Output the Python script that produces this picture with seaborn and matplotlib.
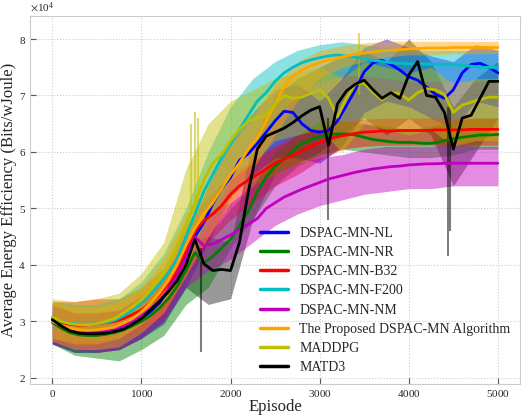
import numpy as np
import pandas as pd
import seaborn as sns
import matplotlib.pyplot as plt

# smoothed curves, read every 100 episodes (values in units of 1e4 Bits/wJoule)
episodes = list(range(0, 5001, 100))
# raw-trace envelopes, read every 250 episodes
band_episodes = list(range(0, 5001, 250))

algorithms = [
    "DSPAC-MN-NL",
    "DSPAC-MN-NR",
    "DSPAC-MN-B32",
    "DSPAC-MN-F200",
    "DSPAC-MN-NM",
    "The Proposed DSPAC-MN Algorithm",
    "MADDPG",
    "MATD3",
]
colors = ["#0000ff", "#008000", "#ff0000", "#00bfbf", "#bf00bf", "#ffa500", "#bfbf00", "#000000"]

nl_mean = [3.0, 2.93, 2.87, 2.83, 2.82, 2.82, 2.83, 2.85, 2.9, 2.97, 3.05,
           3.17, 3.32, 3.55, 3.85, 4.2, 4.5, 4.75, 5.08, 5.35, 5.55,
           5.85, 5.97, 6.15, 6.35, 6.55, 6.72, 6.7, 6.5, 6.38, 6.35,
           6.38, 6.55, 6.82, 7.1, 7.42, 7.58, 7.62, 7.55, 7.45, 7.33,
           7.27, 7.15, 7.02, 6.95, 7.1, 7.4, 7.55, 7.57, 7.5, 7.4]
nr_mean = [2.98, 2.88, 2.8, 2.76, 2.75, 2.75, 2.77, 2.8, 2.85, 2.92, 3.0,
           3.1, 3.23, 3.4, 3.62, 3.9, 4.22, 4.03, 4.15, 4.3, 4.45,
           4.7, 4.95, 5.3, 5.55, 5.75, 5.88, 6.02, 6.15, 6.22, 6.27,
           6.3, 6.32, 6.32, 6.3, 6.26, 6.22, 6.2, 6.18, 6.17, 6.17,
           6.16, 6.15, 6.16, 6.2, 6.23, 6.26, 6.28, 6.3, 6.3, 6.31]
b32_mean = [3.05, 2.98, 2.95, 2.93, 2.94, 2.96, 2.98, 3.0, 3.05, 3.12, 3.2,
            3.32, 3.47, 3.65, 3.9, 4.25, 4.6, 4.78, 4.9, 5.05, 5.25,
            5.4, 5.5, 5.6, 5.7, 5.8, 5.87, 5.95, 6.02, 6.1, 6.17,
            6.23, 6.27, 6.3, 6.33, 6.35, 6.36, 6.37, 6.37, 6.38, 6.38,
            6.38, 6.38, 6.39, 6.39, 6.39, 6.39, 6.4, 6.4, 6.4, 6.4]
f200_mean = [3.05, 3.0, 2.97, 2.95, 2.95, 2.96, 2.98, 3.02, 3.1, 3.2, 3.32,
             3.47, 3.65, 3.85, 4.1, 4.5, 4.9, 5.3, 5.6, 5.9, 6.15,
             6.4, 6.65, 6.9, 7.05, 7.25, 7.4, 7.5, 7.58, 7.63, 7.67,
             7.7, 7.72, 7.7, 7.68, 7.65, 7.62, 7.6, 7.58, 7.57, 7.56,
             7.56, 7.56, 7.55, 7.55, 7.55, 7.53, 7.52, 7.5, 7.5, 7.49]
nm_mean = [3.0, 2.92, 2.86, 2.83, 2.82, 2.83, 2.84, 2.87, 2.92, 3.0, 3.1,
           3.22, 3.37, 3.55, 3.8, 4.12, 4.5, 4.34, 4.37, 4.45, 4.53,
           4.63, 4.72, 4.82, 5.0, 5.1, 5.2, 5.27, 5.34, 5.4, 5.46,
           5.52, 5.56, 5.6, 5.64, 5.67, 5.7, 5.72, 5.74, 5.75, 5.77,
           5.78, 5.79, 5.79, 5.8, 5.8, 5.8, 5.8, 5.8, 5.8, 5.8]
proposed_mean = [3.0, 2.93, 2.88, 2.85, 2.84, 2.85, 2.87, 2.9, 2.97, 3.05, 3.17,
                 3.32, 3.5, 3.72, 4.0, 4.35, 4.65, 4.9, 5.1, 5.35, 5.6,
                 5.8, 6.05, 6.25, 6.55, 6.85, 7.15, 7.35, 7.45, 7.52, 7.58,
                 7.63, 7.66, 7.7, 7.73, 7.75, 7.77, 7.79, 7.8, 7.81, 7.82,
                 7.83, 7.84, 7.84, 7.84, 7.85, 7.85, 7.85, 7.85, 7.85, 7.85]
maddpg_mean = [3.08, 3.0, 2.96, 2.94, 2.94, 2.96, 3.0, 3.05, 3.15, 3.26, 3.38,
               3.55, 3.75, 4.0, 4.35, 4.7, 5.1, 5.5, 5.8, 5.95, 6.2,
               6.4, 6.55, 6.6, 6.65, 6.85, 7.0, 6.95, 6.97, 7.04, 7.1,
               6.95, 6.62, 6.95, 7.2, 7.22, 7.05, 6.92, 7.05, 7.03, 6.92,
               7.05, 7.12, 7.1, 7.02, 6.7, 6.83, 6.88, 6.93, 6.97, 6.97]
matd3_mean = [3.03, 2.92, 2.83, 2.79, 2.78, 2.78, 2.79, 2.82, 2.86, 2.95, 3.05,
              3.2, 3.35, 3.52, 3.72, 4.0, 4.45, 4.02, 3.9, 3.92, 3.9,
              4.4, 5.3, 6.05, 6.28, 6.35, 6.42, 6.52, 6.64, 6.74, 6.8,
              6.12, 6.85, 7.08, 7.2, 7.27, 7.1, 6.95, 7.05, 6.95, 7.36,
              7.6, 7.0, 6.97, 6.7, 6.05, 6.6, 6.65, 6.95, 7.25, 7.25]

nl_lo = [2.6, 2.45, 2.45, 2.5, 2.7, 2.95, 3.6, 4.4, 5.2, 5.6, 5.9,
         5.9, 5.8, 6.1, 6.7, 6.9, 6.8, 6.6, 6.4, 6.9, 6.8]
nl_hi = [3.25, 3.15, 3.15, 3.2, 3.4, 3.75, 4.5, 5.4, 6.2, 6.7, 7.1,
         7.2, 6.9, 7.3, 7.85, 8.0, 7.85, 7.7, 7.6, 7.9, 7.8]
nr_lo = [2.6, 2.4, 2.35, 2.3, 2.5, 2.75, 3.3, 3.6, 4.3, 4.8, 5.4,
         5.75, 5.95, 6.05, 6.0, 5.95, 5.9, 5.9, 5.95, 6.05, 6.05]
nr_hi = [3.2, 3.1, 3.1, 3.2, 3.35, 3.7, 4.3, 4.5, 5.0, 5.4, 6.0,
         6.3, 6.55, 6.55, 6.5, 6.45, 6.4, 6.45, 6.55, 6.6, 6.6]
b32_lo = [2.7, 2.6, 2.6, 2.7, 2.85, 3.1, 3.8, 4.4, 4.8, 5.1, 5.4,
          5.6, 5.85, 6.05, 6.1, 6.12, 6.12, 6.12, 6.12, 6.12, 6.12]
b32_hi = [3.35, 3.35, 3.4, 3.4, 3.6, 3.95, 4.7, 5.2, 5.6, 5.85, 6.1,
          6.3, 6.45, 6.55, 6.58, 6.6, 6.6, 6.6, 6.6, 6.6, 6.6]
f200_lo = [2.7, 2.65, 2.65, 2.7, 2.95, 3.3, 3.9, 4.7, 5.5, 6.0, 6.6,
           7.0, 7.25, 7.35, 7.35, 7.3, 7.25, 7.25, 7.25, 7.25, 7.25]
f200_hi = [3.35, 3.3, 3.3, 3.4, 3.7, 4.2, 5.0, 6.0, 6.8, 7.3, 7.6,
           7.8, 7.9, 7.95, 7.9, 7.85, 7.8, 7.8, 7.8, 7.8, 7.8]
nm_lo = [2.6, 2.5, 2.45, 2.5, 2.7, 3.0, 3.6, 3.9, 4.1, 4.4, 4.7,
         4.9, 5.05, 5.15, 5.25, 5.3, 5.35, 5.35, 5.4, 5.4, 5.4]
nm_hi = [3.3, 3.15, 3.15, 3.2, 3.45, 3.8, 4.5, 4.9, 5.1, 5.4, 5.6,
         5.8, 5.9, 5.95, 6.05, 6.1, 6.1, 6.1, 6.15, 6.1, 6.1]
proposed_lo = [2.65, 2.5, 2.5, 2.55, 2.8, 3.15, 3.8, 4.5, 5.1, 5.7, 6.3,
               6.9, 7.3, 7.5, 7.6, 7.68, 7.72, 7.72, 7.74, 7.74, 7.74]
proposed_hi = [3.35, 3.25, 3.25, 3.35, 3.6, 4.1, 4.9, 5.4, 6.1, 6.6, 7.2,
               7.6, 7.8, 7.88, 7.93, 7.96, 7.96, 7.96, 7.96, 7.96, 7.96]
maddpg_lo = [2.7, 2.6, 2.6, 2.7, 2.95, 3.3, 3.9, 5.0, 5.5, 5.8, 6.2,
             6.3, 6.4, 6.0, 6.5, 6.4, 6.3, 6.4, 6.1, 6.2, 6.2]
maddpg_hi = [3.4, 3.35, 3.4, 3.5, 3.85, 4.4, 5.7, 6.5, 6.9, 7.1, 7.3,
             7.4, 7.5, 7.3, 7.6, 7.5, 7.4, 7.5, 7.2, 7.3, 7.3]
matd3_lo = [2.6, 2.45, 2.45, 2.5, 2.7, 3.0, 3.6, 3.3, 3.4, 4.8, 5.6,
            5.8, 6.0, 6.3, 6.6, 6.3, 6.6, 6.3, 5.4, 6.0, 6.6]
matd3_hi = [3.3, 3.15, 3.15, 3.2, 3.45, 3.8, 4.45, 4.5, 4.4, 6.2, 7.0,
            7.3, 7.5, 7.7, 7.8, 7.6, 8.0, 7.6, 6.8, 7.3, 7.6]

# isolated spikes in the raw traces
matd3_spike_ep = [1670, 3090, 4440, 4460]
matd3_spike_lo = [2.45, 4.8, 4.15, 4.6]
matd3_spike_hi = [4.3, 6.6, 6.8, 6.8]
maddpg_spike_ep = [1560, 1600, 1640, 3440]
maddpg_spike_lo = [4.6, 4.8, 5.0, 7.0]
maddpg_spike_hi = [6.5, 6.7, 6.6, 8.1]

means = [nl_mean, nr_mean, b32_mean, f200_mean, nm_mean, proposed_mean, maddpg_mean, matd3_mean]
lows = [nl_lo, nr_lo, b32_lo, f200_lo, nm_lo, proposed_lo, maddpg_lo, matd3_lo]
highs = [nl_hi, nr_hi, b32_hi, f200_hi, nm_hi, proposed_hi, maddpg_hi, matd3_hi]

scale = 1e4
df = pd.concat(
    [pd.DataFrame({"episode": episodes, "value": np.array(m) * scale, "algorithm": a})
     for a, m in zip(algorithms, means)],
    ignore_index=True,
)

sns.set_style("whitegrid", {"grid.linestyle": ":", "grid.color": ".8", "axes.edgecolor": ".8",
                            "axes.facecolor": "white"})
plt.rcParams["font.family"] = ["Liberation Serif", "DejaVu Serif"]
plt.rcParams["mathtext.fontset"] = "stix"
plt.rcParams["axes.formatter.use_mathtext"] = True

fig, ax = plt.subplots(figsize=(5.27, 4.17), dpi=100)
fig.subplots_adjust(left=0.057, right=0.987, bottom=0.079, top=0.962)

# raw traces (as envelopes); MATD3 first so the early region stays orange-brown
band_order = [7, 0, 1, 2, 3, 4, 6, 5]
for i in band_order:
    ax.fill_between(band_episodes, np.array(lows[i]) * scale, np.array(highs[i]) * scale,
                    color=colors[i], alpha=0.45 if i != 7 else 0.4, lw=0)
ax.vlines(maddpg_spike_ep, np.array(maddpg_spike_lo) * scale, np.array(maddpg_spike_hi) * scale,
          color=colors[6], alpha=0.55, lw=1.5)
ax.vlines(matd3_spike_ep, np.array(matd3_spike_lo) * scale, np.array(matd3_spike_hi) * scale,
          color=colors[7], alpha=0.5, lw=1.5)

# smoothed curves
sns.lineplot(data=df, x="episode", y="value", hue="algorithm", hue_order=algorithms,
             palette=colors, lw=2, ax=ax)

ax.set_xlim(-250, 5250)
ax.set_ylim(1.89 * scale, 8.41 * scale)
ax.set_xticks(range(0, 5001, 1000))
ax.set_yticks(np.arange(2, 9) * scale)
ax.ticklabel_format(axis="y", style="sci", scilimits=(0, 0))
ax.yaxis.get_offset_text().set_fontsize(8)
ax.tick_params(labelsize=8, direction="in", length=4, width=0.8, color=".35", pad=3,
               left=True, bottom=True)
ax.grid(True, linestyle=":", color=".8", lw=0.8)

ax.set_xlabel("Episode", fontsize=12, labelpad=0)
ax.set_ylabel("Average Energy Efficiency (Bits/wJoule)", fontsize=12, labelpad=1)

handles, labels = ax.get_legend_handles_labels()
leg = ax.legend(handles, labels, loc="lower right", frameon=False, fontsize=10,
                labelspacing=0.45, handlelength=2.0, borderaxespad=0.3)
for h in leg.get_lines():
    h.set_linewidth(2.5)

fig.savefig("out.png", dpi=100)
